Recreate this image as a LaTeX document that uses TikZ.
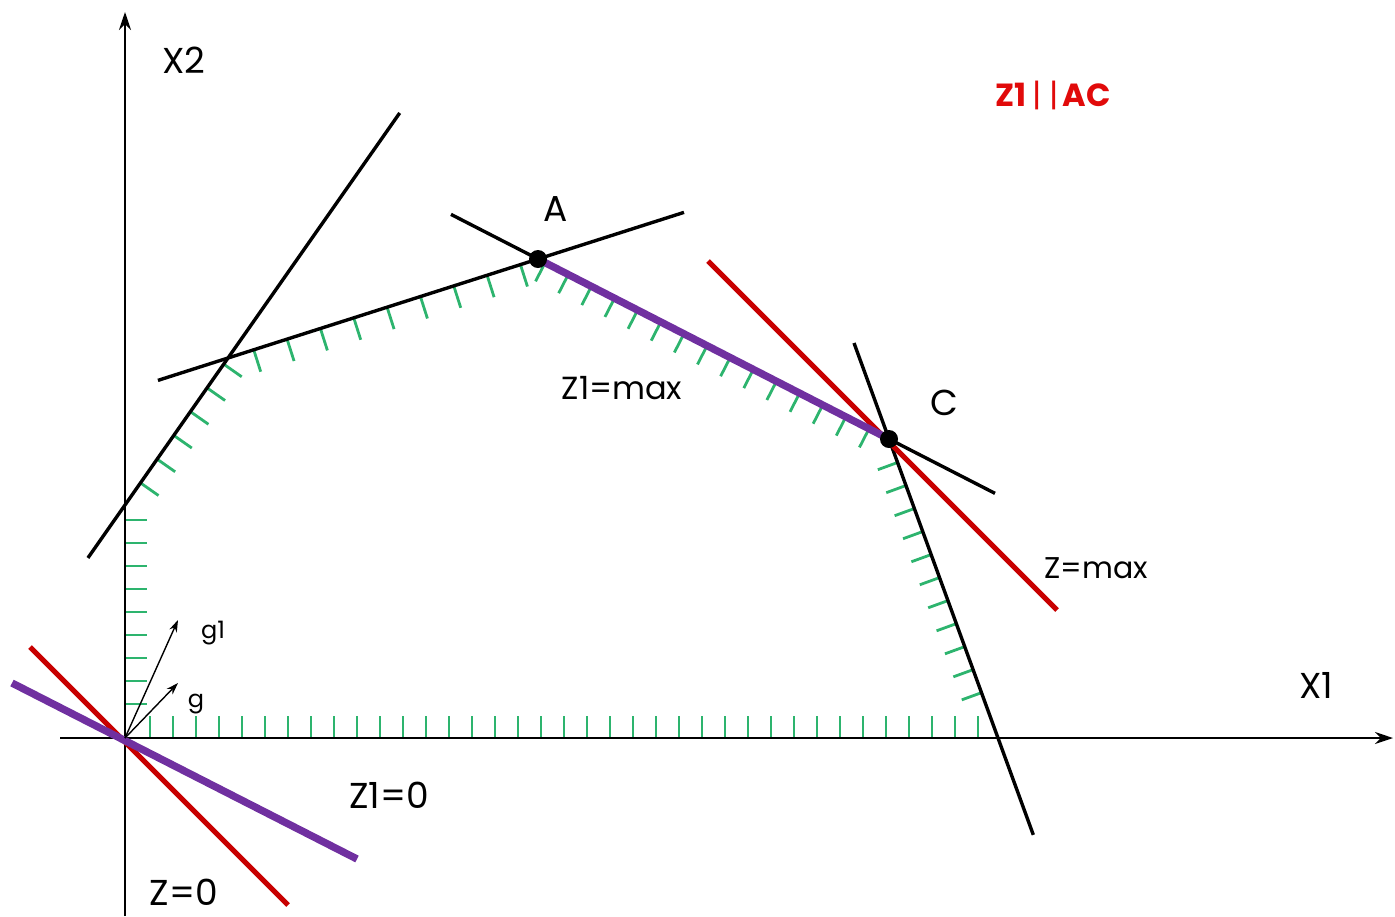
\documentclass[tikz,border=0pt]{standalone}
\usepackage{fontspec}
\setmainfont{Poppins}
\usetikzlibrary{calc,arrows.meta,decorations.markings}
\definecolor{hatchgreen}{RGB}{45,180,110}
\definecolor{zred}{RGB}{200,0,0}
\definecolor{zpurple}{RGB}{112,48,160}
\definecolor{titlered}{RGB}{225,10,10}
\tikzset{
  axis/.style={line width=1pt,-{Stealth[length=9pt,width=6pt]}},
  constr/.style={line width=1.7pt,black},
  zline/.style={line width=2.6pt,zred},
  z1line/.style={line width=3.7pt,zpurple},
  grad/.style={line width=0.7pt,-{Stealth[length=6pt,width=4pt]}},
  vertex/.style={fill=black},
  lbl/.style={inner sep=0pt,font=\fontsize{18}{20}\selectfont},
  smalllbl/.style={inner sep=0pt,font=\fontsize{12}{14}\selectfont},
  hatchtick/.style={line width=1.4pt,hatchgreen},
  hatch/.style n args={4}{postaction={decorate},decoration={markings,
     mark=between positions #1 and #2 step #3 with {\draw[hatchtick] (0pt,0pt) -- (0pt,-#4);}}}
}
\begin{document}
\begin{tikzpicture}[x=0.5pt,y=-0.5pt]
\useasboundingbox (0,0) rectangle (1395,916);
% vertices
\coordinate (O) at (125,738);
\coordinate (Y1) at (125,505);
\coordinate (B) at (228,358);
\coordinate (A) at (538,259);
\coordinate (C) at (889,439);
\coordinate (D) at (998,738);
% axes ends
\coordinate (Xs) at (60,738);
\coordinate (Xe) at (1393,738);
\coordinate (Ys) at (125,916);
\coordinate (Ye) at (125,12);
% other line ends
\coordinate (RZa) at (708,261);
\coordinate (RZb) at (1057,610);
\coordinate (R0a) at (30,647);
\coordinate (R0b) at (288,905);
\coordinate (P0a) at (12,683);
\coordinate (P0b) at (357,859);
\coordinate (G1) at (178,620);
\coordinate (G) at (178,683);

% hatching (feasible side)
\path[hatch={17pt}{110pt}{11.5pt}{11pt}] (O) -- (Y1);
\path[hatch={13.5pt}{87pt}{14.5pt}{11pt}] (Y1) -- (B);
\path[hatch={13.5pt}{154pt}{17.5pt}{11.5pt}] (B) -- (A);
\path[hatch={4pt}{187pt}{13pt}{10.5pt}] (A) -- (C);
\path[hatch={12.5pt}{136pt}{12.25pt}{10.5pt}] (C) -- (D);
\path[hatch={10pt}{425pt}{11.5pt}{11pt}] (D) -- (O);

% axes
\draw[axis] (Xs) -- (Xe);
\draw[axis] (Ys) -- (Ye);

% constraint lines
\draw[constr] ($(Y1)!-0.36!(B)$) -- ($(Y1)!2.667!(B)$);
\draw[constr] ($(B)!-0.226!(A)$) -- ($(B)!1.471!(A)$);
\draw[constr] ($(A)!-0.248!(C)$) -- ($(A)!1.302!(C)$);
\draw[constr] ($(C)!-0.321!(D)$) -- ($(C)!1.324!(D)$);

% objective lines
\draw[zline] (RZa) -- (RZb);
\draw[zline] (R0a) -- (R0b);
\draw[z1line] (P0a) -- (P0b);
\draw[z1line] (A) -- (C);

% gradients
\draw[grad] (O) -- (G1);
\draw[grad] (O) -- (G);

% vertices
\fill[vertex] (A) circle[radius=4.5pt];
\fill[vertex] (C) circle[radius=4.5pt];

% labels
\node[lbl] (lX2) at (184,60) {X2};
\node[lbl] (lX1) at (1316,685) {X1};
\node[lbl] (lA) at (556,209) {A};
\node[lbl] (lC) at (944,403) {C};
\node[lbl,font=\fontsize{16}{18}\selectfont] (lZ1max) at (622,388) {Z1=max};
\node[lbl,font=\fontsize{15}{17}\selectfont] (lZmax) at (1096,568) {Z=max};
\node[smalllbl] (lg1) at (213,633) {g1};
\node[smalllbl] (lg) at (196,704) {g};
\node[lbl] (lZ10) at (389,795) {Z1=0};
\node[lbl] (lZ0) at (184,892) {Z=0};
\node[lbl,font=\bfseries\fontsize{16}{18}\selectfont,text=titlered] (ltitle) at (1053,95) {Z1\hspace{3pt}{\mdseries|}\hspace{4pt}{\mdseries|}\hspace{2pt}AC};
\end{tikzpicture}
\end{document}
